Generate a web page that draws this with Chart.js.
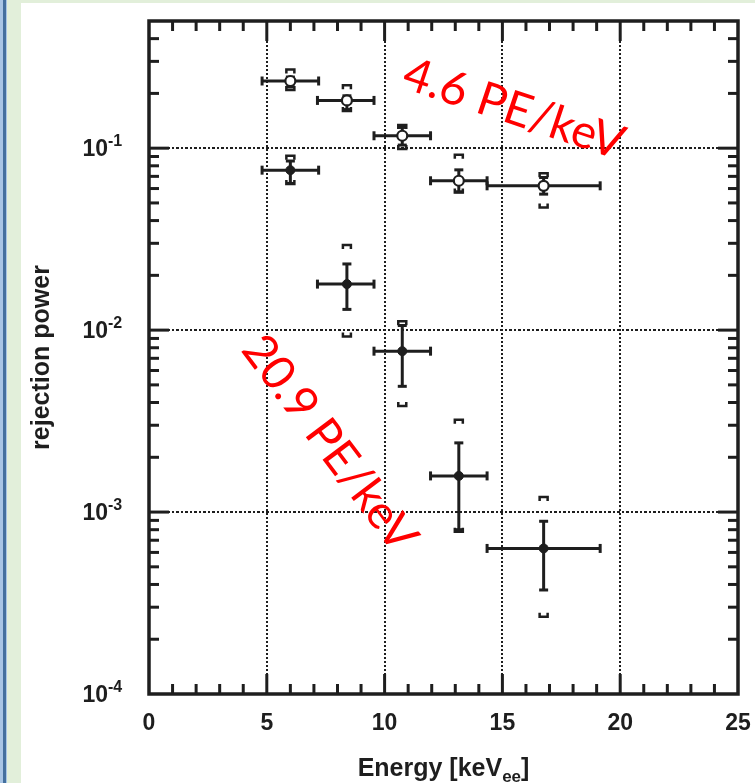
<!DOCTYPE html>
<html lang="en">
<head>
<meta charset="UTF-8">
<title>Rejection power vs energy</title>
<script src="https://cdn.jsdelivr.net/npm/chart.js"></script>
<style>
  html, body { margin: 0; padding: 0; }
  body { width: 755px; height: 783px; position: relative; overflow: hidden; background: #e2efda; }
  .edge { position: absolute; left: 0; top: 0; width: 7px; height: 783px;
          background: linear-gradient(to right, #a8c5e5 0, #a8c5e5 3px, #44709e 3px, #44709e 6px, #a8c5e5 6px); }
  .panel { position: absolute; left: 21px; top: 3px; right: 0; bottom: 0; background: #fff; }
  #chart { position: absolute; left: 0; top: 0; }
</style>
</head>
<body>
<div class="edge"></div>
<div class="panel"></div>
<canvas id="chart" width="755" height="783"></canvas>

<script>
// energy bins (keVee)
var energy     = [6.0, 8.4, 10.75, 13.15, 16.75];
var energyLow  = [4.8, 7.15, 9.55, 11.95, 14.35];
var energyHigh = [7.2, 9.55, 11.95, 14.35, 19.15];

// 4.6 PE/keV (open circles)
var rej46      = [0.234, 0.183, 0.117, 0.0662, 0.0621];
var stat46Low  = [0.217, 0.163, 0.104, 0.0576, 0.0559];
var stat46High = [0.246, 0.194, 0.130, 0.076, 0.069];
var sys46Low   = [0.209, 0.160, 0.099, 0.057, 0.0472];
var sys46High  = [0.271, 0.222, 0.134, 0.0919, 0.0729];

// 20.9 PE/keV (filled circles)
var rej209      = [0.0757, 0.0179, 0.00766, 0.00158, 0.000631];
var stat209Low  = [0.064, 0.0130, 0.00491, 0.000800, 0.000373];
var stat209High = [0.085, 0.0231, 0.0106, 0.0024, 0.00089];
var sys209Low   = [0.0635, 0.00923, 0.00383, 0.00078, 0.000266];
var sys209High  = [0.0908, 0.0294, 0.0112, 0.00322, 0.00121];

var xTicks = [0, 5, 10, 15, 20, 25];
var yDecades = [-4, -3, -2, -1];

var INK = '#1e1e1e';

function buildPoints(vals, sLo, sHi, yLo, yHi) {
    var pts = [];
    for (var i = 0; i < energy.length; i++) {
        pts.push({
            x: energy[i], y: vals[i],
            xMin: energyLow[i], xMax: energyHigh[i],
            statLow: sLo[i], statHigh: sHi[i],
            sysLow: yLo[i], sysHigh: yHi[i]
        });
    }
    return pts;
}

function line(ctx, x1, y1, x2, y2) {
    ctx.beginPath();
    ctx.moveTo(x1, y1);
    ctx.lineTo(x2, y2);
    ctx.stroke();
}

// dotted grid at the labelled values
var gridPlugin = {
    id: 'dottedGrid',
    beforeDatasetsDraw: function (chart) {
        var ctx = chart.ctx, a = chart.chartArea;
        var xs = chart.scales.x, ys = chart.scales.y;
        ctx.save();
        ctx.strokeStyle = INK;
        ctx.lineWidth = 2;
        ctx.setLineDash([2, 2]);
        xTicks.forEach(function (v) {
            if (v <= xs.min || v >= xs.max) return;
            var px = Math.round(xs.getPixelForValue(v));
            line(ctx, px, a.top, px, a.bottom);
        });
        ctx.setLineDash([3, 2, 2, 2]);
        yDecades.forEach(function (d) {
            var v = Math.pow(10, d);
            if (v <= ys.min || v >= ys.max) return;
            var py = Math.round(ys.getPixelForValue(v));
            line(ctx, a.left, py, a.right, py);
        });
        ctx.restore();
    }
};

// statistical error bars and systematic brackets
var errorPlugin = {
    id: 'errorBars',
    beforeDatasetsDraw: function (chart) {
        var ctx = chart.ctx;
        var xs = chart.scales.x, ys = chart.scales.y;
        ctx.save();
        ctx.strokeStyle = INK;
        ctx.lineWidth = 3;
        chart.data.datasets.forEach(function (ds) {
            ds.data.forEach(function (p) {
                var px = xs.getPixelForValue(p.x);
                var py = ys.getPixelForValue(p.y);
                var x1 = xs.getPixelForValue(p.xMin), x2 = xs.getPixelForValue(p.xMax);
                line(ctx, x1, py, x2, py);
                line(ctx, x1, py - 4.5, x1, py + 4.5);
                line(ctx, x2, py - 4.5, x2, py + 4.5);
                var yTop = ys.getPixelForValue(p.statHigh), yBot = ys.getPixelForValue(p.statLow);
                line(ctx, px, yTop, px, yBot);
                line(ctx, px - 4.5, yTop, px + 4.5, yTop);
                line(ctx, px - 4.5, yBot, px + 4.5, yBot);
                // systematic brackets
                ctx.lineWidth = 2.5;
                var sTop = ys.getPixelForValue(p.sysHigh), sBot = ys.getPixelForValue(p.sysLow);
                ctx.beginPath();
                ctx.moveTo(px - 4, sTop + 4); ctx.lineTo(px - 4, sTop);
                ctx.lineTo(px + 4, sTop); ctx.lineTo(px + 4, sTop + 4);
                ctx.stroke();
                ctx.beginPath();
                ctx.moveTo(px - 4, sBot - 4); ctx.lineTo(px - 4, sBot);
                ctx.lineTo(px + 4, sBot); ctx.lineTo(px + 4, sBot - 4);
                ctx.stroke();
                ctx.lineWidth = 3;
            });
        });
        ctx.restore();
    }
};

// frame, inward ticks, labels and annotations
var framePlugin = {
    id: 'frame',
    afterDatasetsDraw: function (chart) {
        var ctx = chart.ctx, a = chart.chartArea;
        var xs = chart.scales.x, ys = chart.scales.y;
        ctx.save();
        ctx.strokeStyle = INK;
        ctx.fillStyle = INK;

        // x ticks every 1 keV, top and bottom
        ctx.lineWidth = 3;
        for (var v = xs.min + 1; v < xs.max; v++) {
            var len = (v % 5 === 0) ? 20 : 10;
            var px = xs.getPixelForValue(v);
            line(ctx, px, a.bottom, px, a.bottom - len);
            line(ctx, px, a.top, px, a.top + len);
        }
        // y ticks (log), left and right
        yDecades.forEach(function (d) {
            for (var m = 1; m < 10; m++) {
                var val = m * Math.pow(10, d);
                if (val <= ys.min || val >= ys.max) continue;
                var len = (m === 1) ? 20 : 10;
                var py = ys.getPixelForValue(val);
                line(ctx, a.left, py, a.left + len, py);
                line(ctx, a.right, py, a.right - len, py);
            }
        });

        ctx.lineWidth = 3.5;
        ctx.strokeRect(a.left, a.top, a.right - a.left, a.bottom - a.top);

        // x tick labels
        ctx.font = 'bold 23px "Liberation Sans", Arial, sans-serif';
        ctx.textAlign = 'center';
        ctx.textBaseline = 'alphabetic';
        xTicks.forEach(function (v) {
            ctx.fillText(String(v), xs.getPixelForValue(v), 730);
        });

        // y tick labels 10^n
        yDecades.forEach(function (d) {
            var py = ys.getPixelForValue(Math.pow(10, d));
            ctx.font = 'bold 23px "Liberation Sans", Arial, sans-serif';
            ctx.textAlign = 'right';
            ctx.fillText('10', 108, py + 8);
            ctx.font = 'bold 16px "Liberation Sans", Arial, sans-serif';
            ctx.textAlign = 'left';
            ctx.fillText(String(d), 108, py - 2);
        });

        // axis titles
        var cx = (a.left + a.right) / 2;
        ctx.font = 'bold 25px "Liberation Sans", Arial, sans-serif';
        var main = 'Energy [keV', sub = 'ee', end = ']';
        var w1 = ctx.measureText(main).width, w3 = ctx.measureText(end).width;
        ctx.font = 'bold 17px "Liberation Sans", Arial, sans-serif';
        var w2 = ctx.measureText(sub).width;
        var x0 = cx - (w1 + w2 + w3) / 2;
        ctx.textAlign = 'left';
        ctx.font = 'bold 25px "Liberation Sans", Arial, sans-serif';
        ctx.fillText(main, x0, 776);
        ctx.font = 'bold 17px "Liberation Sans", Arial, sans-serif';
        ctx.fillText(sub, x0 + w1, 782);
        ctx.font = 'bold 25px "Liberation Sans", Arial, sans-serif';
        ctx.fillText(end, x0 + w1 + w2, 776);

        ctx.save();
        ctx.translate(49, (a.top + a.bottom) / 2);
        ctx.rotate(-Math.PI / 2);
        ctx.textAlign = 'center';
        ctx.fillText('rejection power', 0, 0);
        ctx.restore();

        // red annotations
        ctx.fillStyle = '#ff0000';
        ctx.font = '47px Lato, "Open Sans", sans-serif';
        ctx.textAlign = 'left';
        ctx.save();
        ctx.translate(400, 87);
        ctx.rotate(18.5 * Math.PI / 180);
        ctx.fillText('4.6 PE/keV', 0, 0);
        ctx.restore();
        ctx.save();
        ctx.translate(240, 350);
        ctx.rotate(53 * Math.PI / 180);
        ctx.fillText('20.9 PE/keV', 0, 0);
        ctx.restore();

        ctx.restore();
    }
};

var ctx = document.getElementById('chart').getContext('2d');
var chart = new Chart(ctx, {
    type: 'scatter',
    data: {
        datasets: [
            {
                label: '4.6 PE/keV',
                data: buildPoints(rej46, stat46Low, stat46High, sys46Low, sys46High),
                pointRadius: 5,
                pointBackgroundColor: '#ffffff',
                pointBorderColor: INK,
                pointBorderWidth: 2.2
            },
            {
                label: '20.9 PE/keV',
                data: buildPoints(rej209, stat209Low, stat209High, sys209Low, sys209High),
                pointRadius: 4.5,
                pointBackgroundColor: INK,
                pointBorderColor: INK,
                pointBorderWidth: 1
            }
        ]
    },
    options: {
        responsive: false,
        animation: false,
        events: [],
        layout: { padding: { left: 149, right: 17, top: 21, bottom: 89 } },
        scales: {
            x: { type: 'linear', min: 0, max: 25, display: false },
            y: { type: 'logarithmic', min: 1e-4, max: 0.5, display: false }
        },
        plugins: { legend: { display: false }, tooltip: { enabled: false } }
    },
    plugins: [gridPlugin, errorPlugin, framePlugin]
});
</script>
</body>
</html>
